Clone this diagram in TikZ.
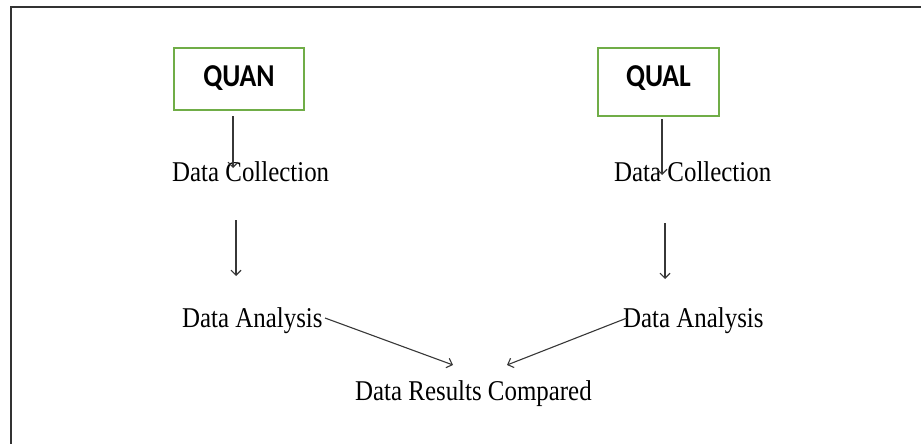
\documentclass[tikz,border=0pt]{standalone}
\usepackage{fontspec}
\setmainfont{Liberation Serif}
\newfontfamily\boxfont{Carlito}
\usetikzlibrary{calc}
\usetikzlibrary{arrows.meta}
\definecolor{boxgreen}{RGB}{112,173,71}
\definecolor{arrgray}{RGB}{55,55,55}
\newcommand{\tallbox}[1]{\scalebox{1}[1.15]{#1}}

\begin{document}
\begin{tikzpicture} [x=1pt, y=-1pt,
  method/.style={draw=boxgreen, line width=2pt, inner sep=0pt, text height=20.6pt,
    font=\boxfont\bfseries\fontsize{27.7}{30}\selectfont},
  stage/.style={inner sep=0pt, anchor=base west, font=\fontsize{24.9}{28}\selectfont},
  arr/.style={arrgray, line width=1.1pt, ->, >={Straight Barb[length=5pt,width=10pt]}}]
\useasboundingbox (0,0) rectangle (921,444);
\draw[black!80, line width=2pt] (11,444)--(11,7)--(921,7);
\node[method, minimum width=130pt, minimum height=62pt, text depth=4.6pt] (quan) at (239,79) {\tallbox{QUAN}};
\node[method, minimum width=121pt, minimum height=68pt, text depth=10.6pt] (qual) at (658.5,82) {\tallbox{QUAL}};
\node[stage] (dcl) at (172,181) {\tallbox{Data Collection}};
\node[stage] (dcr) at (614,181) {\tallbox{Data Collection}};
\node[stage] (dal) at (182,327) {\tallbox{Data Analysis}};
\node[stage] (dar) at (623,327) {\tallbox{Data Analysis}};
\node[stage] (res) at (355,400) {\tallbox{Data Results Compared}};
\draw[arr] ($(quan.south)+(-6,5)$) -- ($(dcl.base west)+(61,-13)$);
\draw[arr] ($(qual.south)+(3.5,2)$) -- ($(dcr.base west)+(48,-6)$);
\draw[arr] ($(dcl.base west)+(64,39)$) -- ($(dal.base west)+(54,-51)$);
\draw[arr] ($(dcr.base west)+(51,42)$) -- ($(dar.base west)+(42,-48)$);
\draw[arr] ($(dal.base west)+(143,-9)$) -- ($(res.base west)+(98,-35)$);
\draw[arr] ($(dar.base west)+(4,-9)$) -- ($(res.base west)+(152,-35)$);
\end{tikzpicture}
\end{document}
